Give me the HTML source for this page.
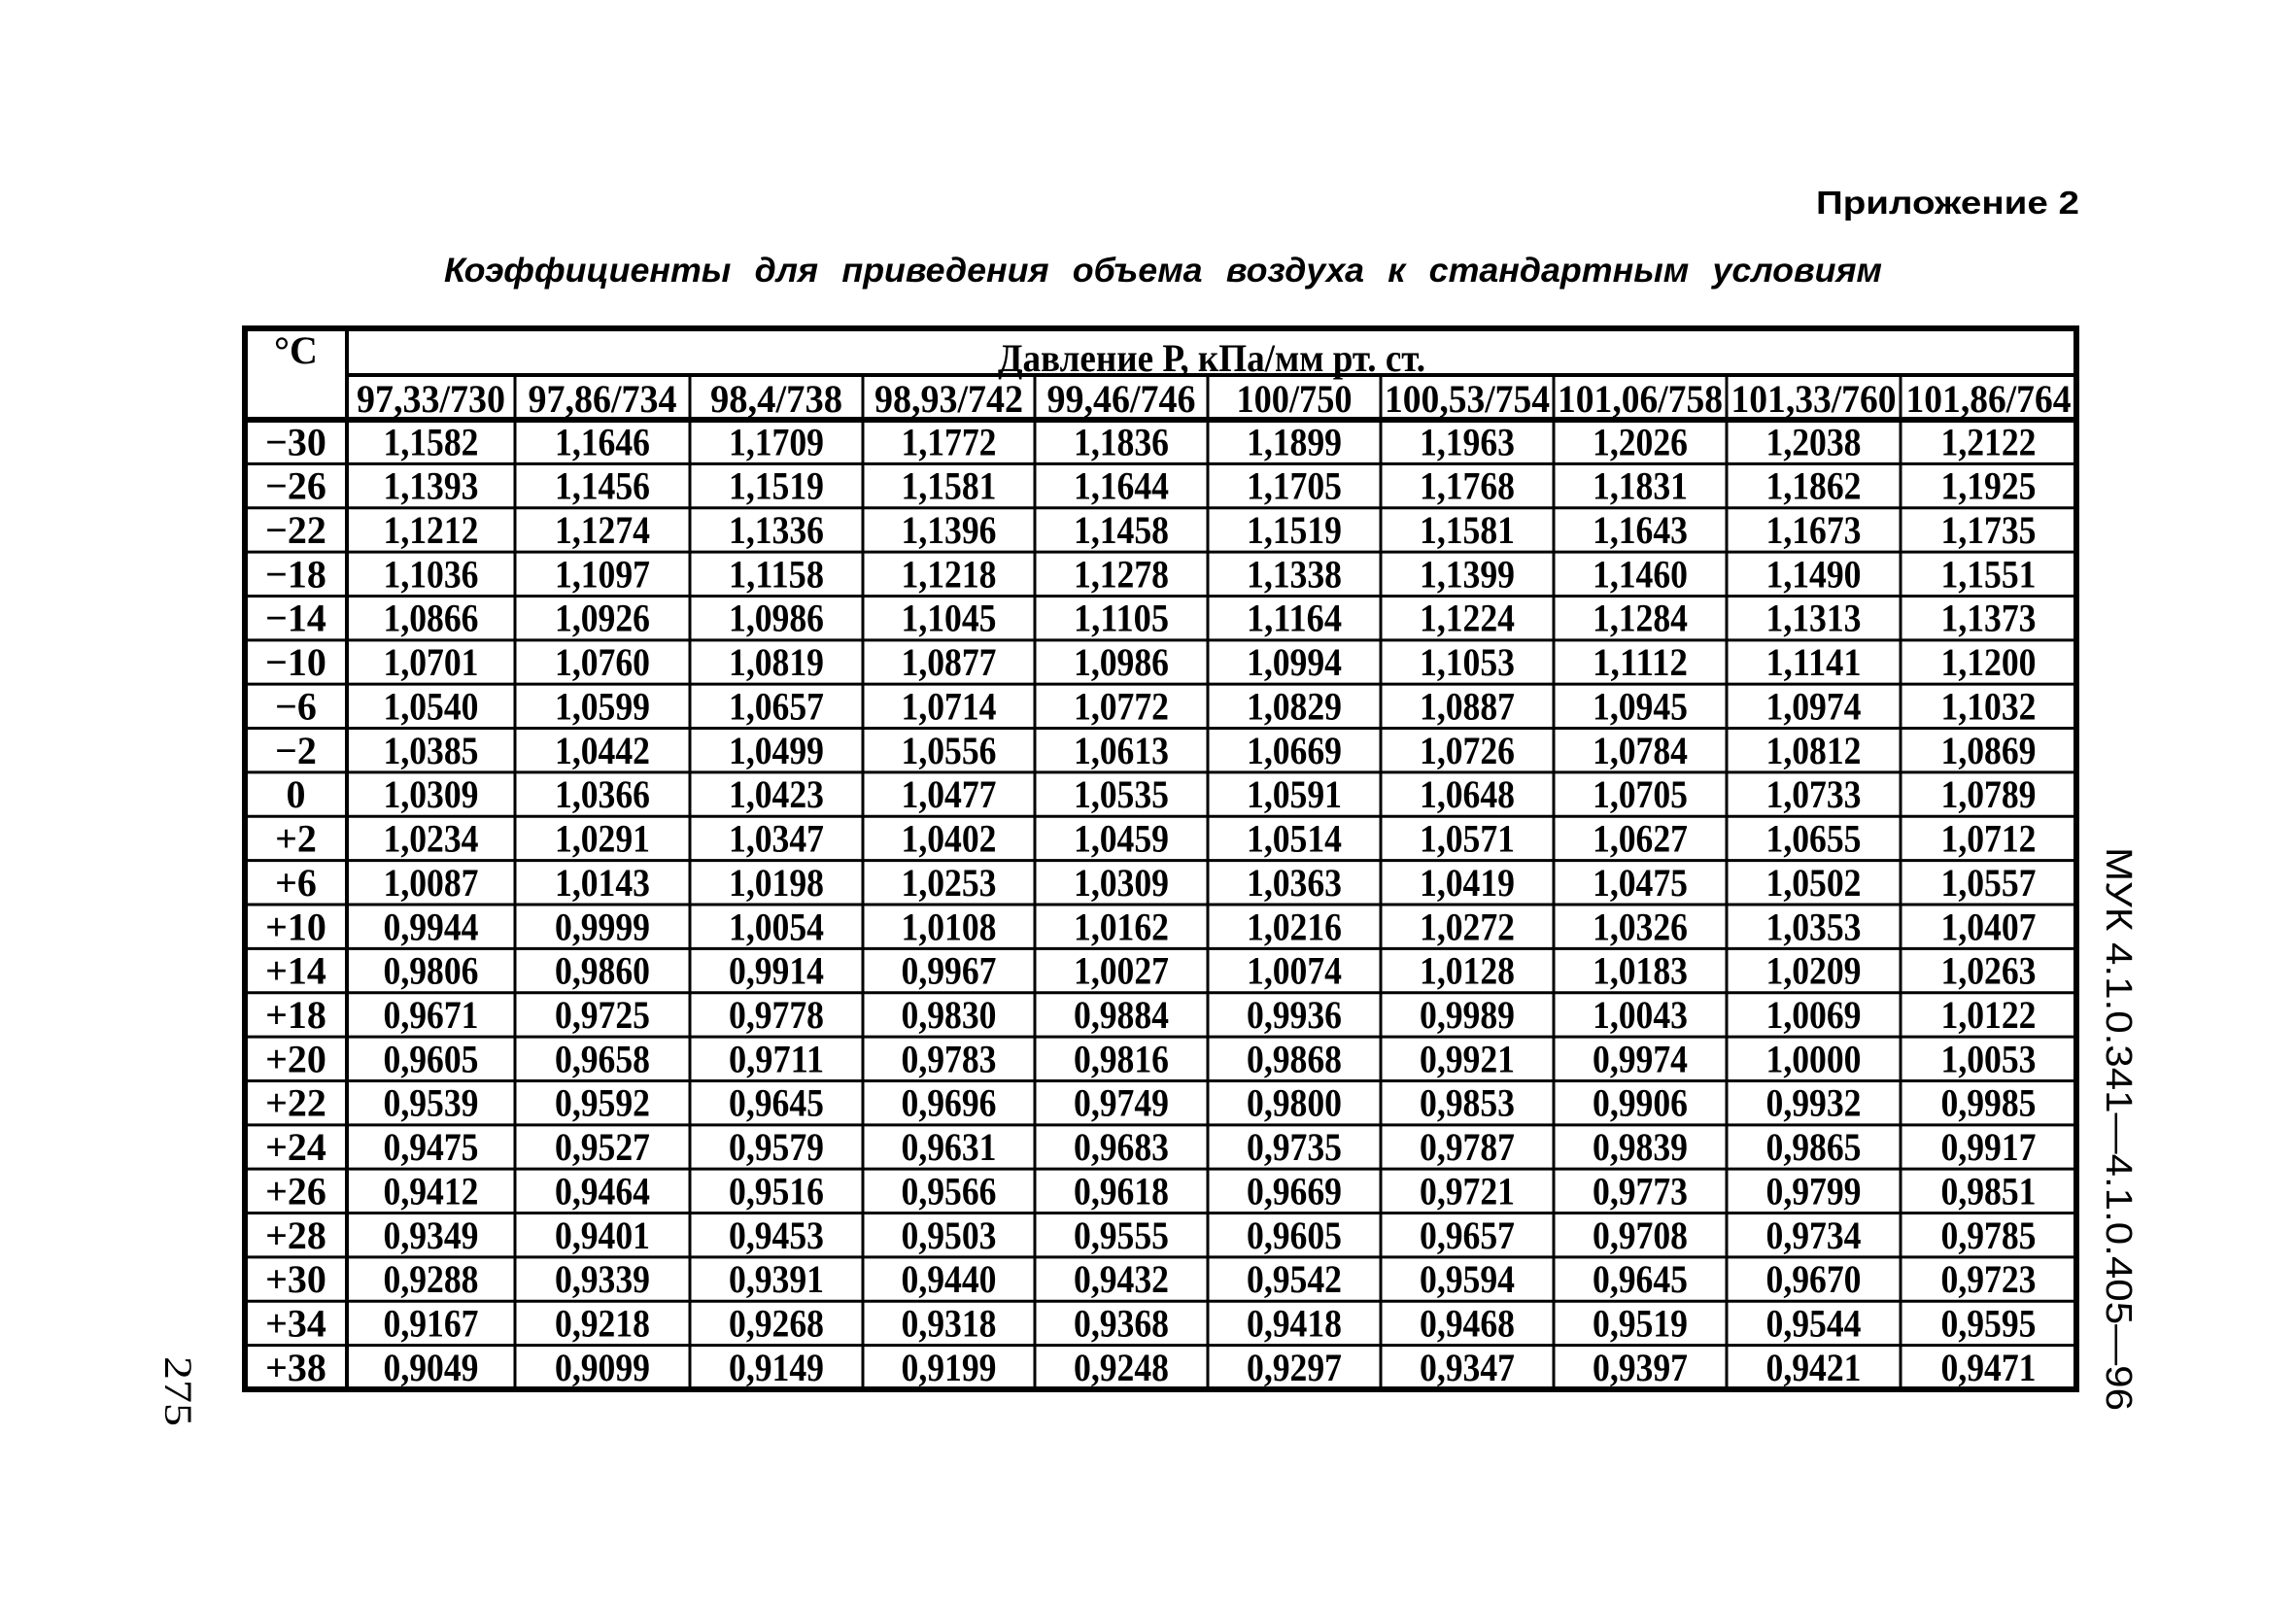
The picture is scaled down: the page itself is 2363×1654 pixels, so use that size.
<!DOCTYPE html>
<html><head><meta charset="utf-8"><style>
html,body{margin:0;padding:0;background:#fff;}
svg{display:block;}
.n{font-family:"Liberation Serif",serif;font-weight:bold;font-size:40px;text-anchor:middle;}
</style></head><body>
<svg width="2363" height="1654" viewBox="0 0 2363 1654" xmlns="http://www.w3.org/2000/svg">
<text x="2140" y="220" text-anchor="end" font-family="Liberation Sans,sans-serif" font-weight="bold" font-size="33" textLength="271" lengthAdjust="spacingAndGlyphs">Приложение 2</text>
<text x="457" y="290" font-family="Liberation Sans,sans-serif" font-weight="bold" font-style="italic" font-size="35" word-spacing="14" textLength="1480" lengthAdjust="spacingAndGlyphs">Коэффициенты  для  приведения  объема  воздуха  к  стандартным  условиям</text>
<g id="tbl"></g>
<text transform="translate(2168,872) rotate(90)" font-family="Liberation Sans,sans-serif" font-size="38" textLength="580" lengthAdjust="spacingAndGlyphs">МУК 4.1.0.341—4.1.0.405—96</text>
<text transform="translate(170,1396) rotate(90)" font-family="Liberation Serif,serif" font-size="40" textLength="72" lengthAdjust="spacingAndGlyphs">275</text>
</svg>
<script>
var xs=[357,530,710,888,1065,1243,1421,1599,1777,1956,2137];
var L=252,R=2137,T=338,H1=386,H2=432,B=1430;
var heads=["97,33/730","97,86/734","98,4/738","98,93/742","99,46/746","100/750","100,53/754","101,06/758","101,33/760","101,86/764"];
var rows=[
["−30","1,1582","1,1646","1,1709","1,1772","1,1836","1,1899","1,1963","1,2026","1,2038","1,2122"],
["−26","1,1393","1,1456","1,1519","1,1581","1,1644","1,1705","1,1768","1,1831","1,1862","1,1925"],
["−22","1,1212","1,1274","1,1336","1,1396","1,1458","1,1519","1,1581","1,1643","1,1673","1,1735"],
["−18","1,1036","1,1097","1,1158","1,1218","1,1278","1,1338","1,1399","1,1460","1,1490","1,1551"],
["−14","1,0866","1,0926","1,0986","1,1045","1,1105","1,1164","1,1224","1,1284","1,1313","1,1373"],
["−10","1,0701","1,0760","1,0819","1,0877","1,0986","1,0994","1,1053","1,1112","1,1141","1,1200"],
["−6","1,0540","1,0599","1,0657","1,0714","1,0772","1,0829","1,0887","1,0945","1,0974","1,1032"],
["−2","1,0385","1,0442","1,0499","1,0556","1,0613","1,0669","1,0726","1,0784","1,0812","1,0869"],
["0","1,0309","1,0366","1,0423","1,0477","1,0535","1,0591","1,0648","1,0705","1,0733","1,0789"],
["+2","1,0234","1,0291","1,0347","1,0402","1,0459","1,0514","1,0571","1,0627","1,0655","1,0712"],
["+6","1,0087","1,0143","1,0198","1,0253","1,0309","1,0363","1,0419","1,0475","1,0502","1,0557"],
["+10","0,9944","0,9999","1,0054","1,0108","1,0162","1,0216","1,0272","1,0326","1,0353","1,0407"],
["+14","0,9806","0,9860","0,9914","0,9967","1,0027","1,0074","1,0128","1,0183","1,0209","1,0263"],
["+18","0,9671","0,9725","0,9778","0,9830","0,9884","0,9936","0,9989","1,0043","1,0069","1,0122"],
["+20","0,9605","0,9658","0,9711","0,9783","0,9816","0,9868","0,9921","0,9974","1,0000","1,0053"],
["+22","0,9539","0,9592","0,9645","0,9696","0,9749","0,9800","0,9853","0,9906","0,9932","0,9985"],
["+24","0,9475","0,9527","0,9579","0,9631","0,9683","0,9735","0,9787","0,9839","0,9865","0,9917"],
["+26","0,9412","0,9464","0,9516","0,9566","0,9618","0,9669","0,9721","0,9773","0,9799","0,9851"],
["+28","0,9349","0,9401","0,9453","0,9503","0,9555","0,9605","0,9657","0,9708","0,9734","0,9785"],
["+30","0,9288","0,9339","0,9391","0,9440","0,9432","0,9542","0,9594","0,9645","0,9670","0,9723"],
["+34","0,9167","0,9218","0,9268","0,9318","0,9368","0,9418","0,9468","0,9519","0,9544","0,9595"],
["+38","0,9049","0,9099","0,9149","0,9199","0,9248","0,9297","0,9347","0,9397","0,9421","0,9471"]];
var s="";
function ln(x1,y1,x2,y2,w){s+='<line x1="'+x1+'" y1="'+y1+'" x2="'+x2+'" y2="'+y2+'" stroke="#000" stroke-width="'+w+'"/>';}
function tx(x,y,t,extra){s+='<text class="n" x="'+x+'" y="'+y+'" '+(extra||'')+'>'+t+'</text>';}
var rh=(B-H2)/22;
ln(xs[0],H1,R,H1,4);
ln(L,H2,R,H2,6);
for(var i=1;i<22;i++){var y=H2+i*rh;ln(L,y,R,y,3);}
ln(xs[0],T,xs[0],B,4);
for(var j=1;j<10;j++)ln(xs[j],H1,xs[j],B,3);
s+='<rect x="'+L+'" y="'+T+'" width="'+(R-L)+'" height="'+(B-T)+'" fill="none" stroke="#000" stroke-width="6"/>';
tx((L+xs[0])/2,374,"°C",'font-size="38"');
tx((xs[0]+R)/2,382,"Давление Р, кПа/мм рт. ст.",'font-size="32" textLength="440" lengthAdjust="spacingAndGlyphs"');
for(var j=0;j<10;j++){var w=xs[j+1]-xs[j]-8;tx((xs[j]+xs[j+1])/2,424,heads[j],'textLength="'+Math.min(w,heads[j].length*17)+'" lengthAdjust="spacingAndGlyphs"');}
for(var i=0;i<22;i++){var y=H2+i*rh+rh*0.8;
 tx((L+xs[0])/2,y,rows[i][0]);
 for(var j=0;j<10;j++)tx((xs[j]+xs[j+1])/2,y,rows[i][j+1],'textLength="98" lengthAdjust="spacingAndGlyphs"');}
document.getElementById("tbl").innerHTML=s;
</script>
</body></html>
